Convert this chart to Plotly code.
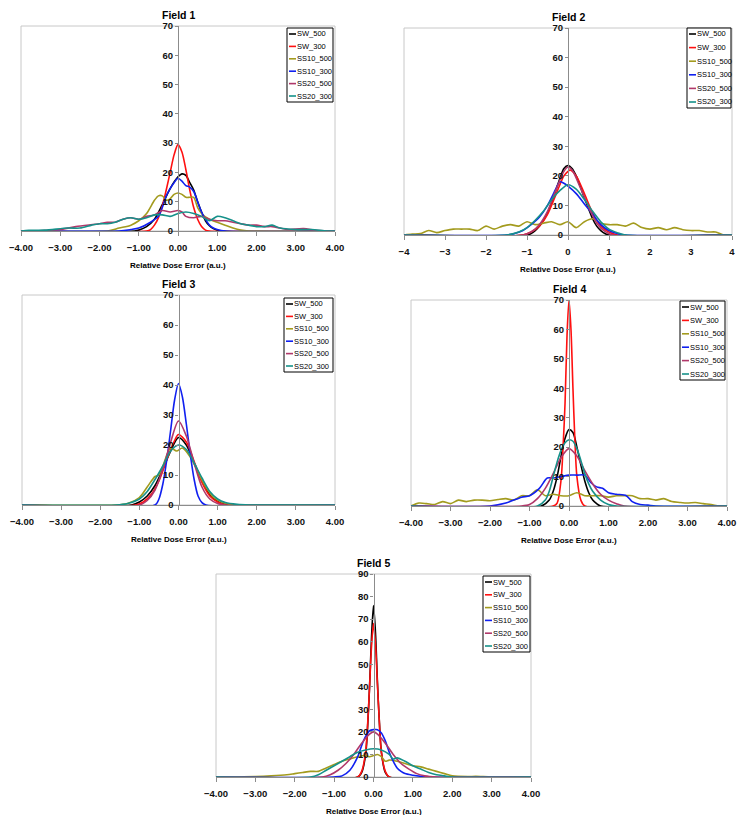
import plotly.graph_objects as go

# ---------------- data ----------------
SERIES = ["SW_500", "SW_300", "SS10_500", "SS10_300", "SS20_500", "SS20_300"]
COLORS = ["#000000", "#FF1010", "#A39B1E", "#1020F0", "#B0386A", "#16918A"]
FIELDS = ["Field 1", "Field 2", "Field 3", "Field 4", "Field 5"]
X_TICKS = [-4, -3, -2, -1, 0, 1, 2, 3, 4]

# Field 1
F1_SW_500_X = [-4, -1.1, -1.0, -0.8, -0.6, -0.4, -0.2, 0, 0.1, 0.2, 0.3, 0.4, 0.5, 0.6, 0.7, 0.8, 0.9, 1.0, 1.1, 4]
F1_SW_500_Y = [0, 0, 0.3, 1.5, 4, 9, 14.5, 18.5, 19.5, 19, 16.5, 14, 10, 6.5, 3.5, 1.8, 0.8, 0.3, 0, 0]
F1_SW_300_X = [-4, -0.8, -0.7, -0.6, -0.5, -0.4, -0.3, -0.2, -0.1, 0, 0.1, 0.2, 0.3, 0.4, 0.5, 0.6, 0.7, 0.8, 4]
F1_SW_300_Y = [0, 0, 0.5, 2, 4.5, 8.5, 14, 20, 26, 29.5, 27, 21, 14, 8, 4, 1.5, 0.3, 0, 0]
F1_SS10_500_X = [-4, -1.8, -1.5, -1.2, -1.0, -0.8, -0.6, -0.5, -0.4, -0.3, -0.2, -0.1, 0, 0.1, 0.2, 0.3, 0.4, 0.5, 0.6, 0.8, 1.0, 1.2, 1.4, 1.6, 1.8, 4]
F1_SS10_500_Y = [0, 0, 1, 2, 3.5, 6, 10.5, 12, 12, 10.5, 11, 12.5, 13, 12.5, 11.5, 11.5, 11.5, 8, 6, 4, 3, 2, 1, 0.3, 0, 0]
F1_SS10_300_X = [-4, -1.5, -1.2, -1.0, -0.7, -0.5, -0.4, -0.3, -0.2, -0.1, 0, 0.1, 0.2, 0.3, 0.4, 0.5, 0.6, 0.7, 0.8, 0.9, 1.0, 1.2, 4]
F1_SS10_300_Y = [0, 0, 0.5, 1, 3, 5, 8, 12, 14.5, 16.5, 18, 17, 15.5, 15, 13.5, 10, 6.5, 4, 2, 1, 0.5, 0, 0]
F1_SS20_500_X = [-4, -3.8, -3.0, -2.6, -2.0, -1.8, -1.6, -1.4, -1.2, -1.0, -0.8, -0.6, -0.4, -0.2, 0, 0.1, 0.2, 0.4, 0.6, 0.8, 1.0, 1.2, 1.4, 1.6, 1.8, 2.0, 2.2, 2.4, 2.6, 2.8, 3.2, 3.5, 3.8, 4]
F1_SS20_500_Y = [0, 0, 0.5, 1.5, 2.5, 3, 3, 4, 4.5, 4, 5, 5.5, 7, 6.5, 7, 6.5, 5, 4.5, 5, 4, 3.5, 3.5, 3, 2.5, 2, 2, 1.5, 1.5, 1, 0.5, 0.8, 0.2, 0, 0]
F1_SS20_300_X = [-4, -3.8, -3.4, -2.8, -2.5, -2.2, -2.0, -1.8, -1.6, -1.4, -1.2, -1.0, -0.8, -0.6, -0.4, -0.2, 0, 0.2, 0.4, 0.6, 0.8, 1.0, 1.2, 1.4, 1.6, 1.8, 2.0, 2.2, 2.4, 2.6, 3.0, 3.4, 3.8, 4]
F1_SS20_300_Y = [0, 0.2, 0.3, 1, 1, 2, 2.5, 2.5, 3, 4, 4.5, 4, 4.5, 5.5, 5.5, 5, 6, 6.5, 6, 5, 3.5, 5, 4.5, 3.5, 2.5, 2, 1.5, 1.5, 2, 1, 0.5, 0.5, 0, 0]

# Field 2
F2_SW_500_X = [-4, -1.0, -0.9, -0.8, -0.7, -0.6, -0.5, -0.4, -0.3, -0.2, -0.1, 0, 0.1, 0.2, 0.3, 0.4, 0.5, 0.6, 0.7, 0.8, 0.9, 1.0, 4]
F2_SW_500_Y = [0, 0, 0.5, 1.5, 3, 5, 7.5, 11, 15, 19, 22.5, 23.5, 22.5, 20, 16.5, 12.5, 9, 5.5, 3, 1.5, 0.5, 0, 0]
F2_SW_300_X = [-4, -1.1, -0.9, -0.7, -0.5, -0.3, -0.1, 0, 0.05, 0.2, 0.4, 0.6, 0.8, 1.0, 1.2, 4]
F2_SW_300_Y = [0, 0, 1, 3, 7, 13.5, 20, 21.5, 22, 20, 14, 7.5, 3, 1, 0, 0]
F2_SS10_500_X = [-4, -3.8, -3.6, -3.4, -3.2, -3.0, -2.8, -2.6, -2.4, -2.2, -2.0, -1.8, -1.6, -1.4, -1.2, -1.0, -0.8, -0.6, -0.4, -0.2, 0, 0.2, 0.4, 0.6, 0.8, 1.0, 1.2, 1.4, 1.6, 1.8, 2.0, 2.2, 2.4, 2.6, 2.8, 3.0, 3.2, 3.4, 3.6, 3.8, 4]
F2_SS10_500_Y = [0, 0.3, 0.5, 1.5, 0.8, 1.5, 2, 2, 2, 1.5, 3, 2, 3, 3.5, 3, 4.5, 3.5, 4, 4.5, 3.5, 4.5, 2.5, 4.5, 5.5, 4, 3.5, 3.5, 3, 4, 2.5, 2, 2.5, 1.8, 2.5, 1.8, 1.5, 1.5, 1, 1, 0, 0]
F2_SS10_300_X = [-4, -1.5, -1.3, -1.1, -0.9, -0.7, -0.5, -0.3, -0.2, -0.1, 0, 0.2, 0.4, 0.6, 0.8, 1.0, 1.2, 1.4, 4]
F2_SS10_300_Y = [0, 0, 0.5, 1.5, 3.5, 6, 10, 15.5, 18, 17.5, 16.5, 14, 10.5, 7, 3.5, 1.5, 0.5, 0, 0]
F2_SS20_500_X = [-4, -1.1, -0.9, -0.7, -0.5, -0.3, -0.1, 0, 0.1, 0.3, 0.5, 0.7, 0.9, 1.1, 4]
F2_SS20_500_Y = [0, 0, 1, 3.5, 8, 15, 21.5, 23, 22, 16, 9.5, 4, 1.2, 0, 0]
F2_SS20_300_X = [-4, -1.5, -1.2, -1.0, -0.8, -0.6, -0.4, -0.2, 0, 0.2, 0.4, 0.6, 0.8, 1.0, 1.2, 1.4, 4]
F2_SS20_300_Y = [0, 0, 1, 2.5, 5, 8, 12, 15, 17, 15.5, 12, 8, 4.5, 2, 0.8, 0, 0]

# Field 3
F3_SW_500_X = [-4, -1.2, -1.0, -0.8, -0.6, -0.4, -0.2, 0, 0.2, 0.4, 0.6, 0.8, 1.0, 1.2, 1.4, 4]
F3_SW_500_Y = [0, 0, 1, 3, 6.5, 12, 18, 22.5, 20, 14, 8, 3.5, 1.2, 0.3, 0, 0]
F3_SW_300_X = [-4, -1.1, -0.9, -0.7, -0.5, -0.3, -0.1, 0, 0.2, 0.4, 0.6, 0.8, 1.0, 1.2, 4]
F3_SW_300_Y = [0, 0, 1, 3.5, 8, 15, 21.5, 23.5, 21, 14.5, 7.5, 3, 1, 0, 0]
F3_SS10_500_X = [-4, -1.6, -1.3, -1.0, -0.8, -0.6, -0.5, -0.4, -0.2, -0.05, 0.1, 0.3, 0.5, 0.7, 0.9, 1.1, 1.4, 4]
F3_SS10_500_Y = [0, 0, 0.5, 2.5, 6, 9.5, 10, 13, 19, 18, 19, 16, 11, 6, 2.5, 1, 0, 0]
F3_SS10_300_X = [-4, -0.6, -0.5, -0.4, -0.3, -0.2, -0.1, 0, 0.1, 0.2, 0.3, 0.4, 0.5, 0.6, 0.7, 4]
F3_SS10_300_Y = [0, 0, 2, 7, 15, 25, 35, 40.5, 36, 27, 17, 8.5, 3, 0.8, 0, 0]
F3_SS20_500_X = [-4, -1.0, -0.8, -0.6, -0.4, -0.2, 0, 0.2, 0.4, 0.6, 0.8, 1.0, 1.2, 4]
F3_SS20_500_Y = [0, 0, 1.5, 5, 12, 21, 28, 23, 14, 6, 2, 0.5, 0, 0]
F3_SS20_300_X = [-4, -1.6, -1.3, -1.0, -0.8, -0.6, -0.4, -0.2, 0, 0.2, 0.4, 0.6, 0.8, 1.0, 1.2, 1.5, 1.8, 4]
F3_SS20_300_Y = [0, 0, 0.5, 2, 4.5, 8.5, 13, 18, 20, 18.5, 14, 9, 4.5, 2, 0.8, 0.2, 0, 0]

# Field 4
F4_SW_500_X = [-4, -0.7, -0.5, -0.4, -0.3, -0.2, -0.1, 0, 0.1, 0.2, 0.3, 0.4, 0.5, 0.6, 0.7, 0.8, 4]
F4_SW_500_Y = [0, 0, 2, 5, 10, 17, 23, 26, 25, 20, 14, 8.5, 4.5, 2, 0.8, 0, 0]
F4_SW_300_X = [-4, -0.4, -0.3, -0.2, -0.15, -0.1, -0.05, 0, 0.05, 0.1, 0.15, 0.2, 0.3, 0.4, 4]
F4_SW_300_Y = [0, 0, 1, 9, 20, 35, 58, 70, 60, 40, 22, 10, 2, 0, 0]
F4_SS10_500_X = [-4, -3.8, -3.6, -3.4, -3.2, -3.0, -2.8, -2.6, -2.4, -2.2, -2.0, -1.8, -1.6, -1.4, -1.2, -1.0, -0.8, -0.6, -0.4, -0.2, 0, 0.2, 0.4, 0.6, 0.8, 1.0, 1.2, 1.4, 1.6, 1.8, 2.0, 2.2, 2.4, 2.6, 2.8, 3.0, 3.2, 3.4, 3.6, 3.8, 4]
F4_SS10_500_Y = [0, 1, 0.8, 0.5, 1.5, 0.8, 2, 1.5, 2, 2, 1.8, 2.2, 2.5, 2, 3.5, 3.5, 5.5, 3.5, 4, 3.5, 3.5, 4.5, 3.5, 3.5, 3.5, 3, 3.5, 3.5, 3.5, 2.5, 2.5, 2, 2.5, 1.5, 1.2, 1, 1.2, 0.8, 0.5, 0, 0]
F4_SS10_300_X = [-4, -2.0, -1.6, -1.2, -1.0, -0.75, -0.55, -0.4, -0.2, 0, 0.2, 0.4, 0.55, 0.7, 0.85, 1.0, 1.2, 1.45, 1.6, 1.8, 2.0, 2.2, 4]
F4_SS10_300_Y = [0, 0, 1, 3, 3.5, 6, 9.5, 9.5, 10, 10.5, 10.5, 10.5, 8, 6.5, 6, 4.5, 4, 3.5, 1.5, 0.5, 0.3, 0, 0]
F4_SS20_500_X = [-4, -1.2, -1.0, -0.8, -0.6, -0.4, -0.2, 0, 0.2, 0.4, 0.6, 0.8, 1.0, 1.2, 1.4, 4]
F4_SS20_500_Y = [0, 0, 0.5, 2.5, 6, 11, 16.5, 19.5, 17, 12, 7.5, 4, 2, 0.8, 0, 0]
F4_SS20_300_X = [-4, -0.8, -0.6, -0.5, -0.4, -0.3, -0.2, -0.1, 0, 0.1, 0.2, 0.3, 0.4, 0.5, 0.6, 0.8, 1.0, 1.2, 4]
F4_SS20_300_Y = [0, 0, 2, 5, 10, 15, 19, 21.5, 22.5, 22, 19.5, 15.5, 11, 7.5, 5, 2, 0.5, 0, 0]

# Field 5
F5_SW_500_X = [-4, -0.4, -0.3, -0.2, -0.15, -0.1, -0.05, 0, 0.05, 0.1, 0.15, 0.2, 0.3, 0.4, 4]
F5_SW_500_Y = [0, 0, 2, 10, 22, 40, 62, 76, 64, 42, 24, 11, 2, 0, 0]
F5_SW_300_X = [-4, -0.4, -0.3, -0.2, -0.15, -0.1, -0.05, 0, 0.05, 0.1, 0.15, 0.2, 0.3, 0.4, 4]
F5_SW_300_Y = [0, 0, 2.5, 11, 23, 40, 58, 68, 59, 41, 24, 11, 2.5, 0, 0]
F5_SS10_500_X = [-4, -3.6, -3.0, -2.6, -2.2, -2.0, -1.8, -1.6, -1.4, -1.2, -1.0, -0.8, -0.6, -0.4, -0.2, -0.1, 0, 0.1, 0.2, 0.3, 0.4, 0.6, 0.8, 1.0, 1.2, 1.4, 1.6, 1.8, 2.0, 2.4, 2.6, 3.0, 4]
F5_SS10_500_Y = [0, 0, 0.2, 0.5, 1, 1.5, 2, 2.5, 2.5, 4, 5.5, 7, 8, 9, 9.5, 9, 9.5, 10, 9, 7, 7.5, 7, 6, 5, 4.5, 3.5, 2.5, 1.5, 0.5, 0.2, 0.3, 0, 0]
F5_SS10_300_X = [-4, -1.0, -0.8, -0.6, -0.4, -0.3, -0.2, -0.1, 0, 0.1, 0.2, 0.3, 0.4, 0.5, 0.6, 0.7, 0.8, 1.0, 1.2, 1.4, 4]
F5_SS10_300_Y = [0, 0, 0.5, 3, 9, 14, 18, 20.5, 21, 21, 19.5, 16, 11, 7, 4, 2.5, 1.5, 0.8, 0.3, 0, 0]
F5_SS20_500_X = [-4, -1.3, -1.1, -0.9, -0.7, -0.5, -0.3, -0.1, 0, 0.1, 0.3, 0.5, 0.7, 0.9, 1.1, 1.3, 1.6, 4]
F5_SS20_500_Y = [0, 0, 1, 3, 6, 10, 15, 19, 20, 19, 15, 10, 6, 3.5, 1.5, 0.5, 0, 0]
F5_SS20_300_X = [-4, -1.6, -1.4, -1.2, -1.0, -0.8, -0.6, -0.4, -0.2, 0, 0.2, 0.4, 0.5, 0.6, 0.8, 1.0, 1.2, 1.4, 1.6, 1.8, 2.0, 4]
F5_SS20_300_Y = [0, 0, 1, 3, 5, 7, 9, 11, 12, 12.5, 12, 10, 8, 8.5, 7, 5, 3.5, 2, 1, 0.5, 0, 0]

DATA = [
    [(F1_SW_500_X, F1_SW_500_Y), (F1_SW_300_X, F1_SW_300_Y), (F1_SS10_500_X, F1_SS10_500_Y),
     (F1_SS10_300_X, F1_SS10_300_Y), (F1_SS20_500_X, F1_SS20_500_Y), (F1_SS20_300_X, F1_SS20_300_Y)],
    [(F2_SW_500_X, F2_SW_500_Y), (F2_SW_300_X, F2_SW_300_Y), (F2_SS10_500_X, F2_SS10_500_Y),
     (F2_SS10_300_X, F2_SS10_300_Y), (F2_SS20_500_X, F2_SS20_500_Y), (F2_SS20_300_X, F2_SS20_300_Y)],
    [(F3_SW_500_X, F3_SW_500_Y), (F3_SW_300_X, F3_SW_300_Y), (F3_SS10_500_X, F3_SS10_500_Y),
     (F3_SS10_300_X, F3_SS10_300_Y), (F3_SS20_500_X, F3_SS20_500_Y), (F3_SS20_300_X, F3_SS20_300_Y)],
    [(F4_SW_500_X, F4_SW_500_Y), (F4_SW_300_X, F4_SW_300_Y), (F4_SS10_500_X, F4_SS10_500_Y),
     (F4_SS10_300_X, F4_SS10_300_Y), (F4_SS20_500_X, F4_SS20_500_Y), (F4_SS20_300_X, F4_SS20_300_Y)],
    [(F5_SW_500_X, F5_SW_500_Y), (F5_SW_300_X, F5_SW_300_Y), (F5_SS10_500_X, F5_SS10_500_Y),
     (F5_SS10_300_X, F5_SS10_300_Y), (F5_SS20_500_X, F5_SS20_500_Y), (F5_SS20_300_X, F5_SS20_300_Y)],
]
Y_MAX = [70, 70, 70, 70, 90]
X_FORMAT = [".2f", "d", ".2f", ".2f", ".2f"]

# ---------------- layout (pixel boxes, page coordinates) ----------------
W, H = 750, 823
PAGE_MARGIN = 8           # default body margin of the html page
FW, FH = W - 2 * PAGE_MARGIN, H - 2 * PAGE_MARGIN
# plot area: left, right, top, bottom (px)
BOXES = [(21, 335, 26, 231), (404, 732, 28, 235), (22, 335, 295, 505),
         (411, 727, 300, 506), (216, 531, 574, 777)]
# legend boxes: left, right, top, bottom (px)
LEG = [(287, 333, 28, 102), (687, 731, 28, 108), (284, 333, 298, 372),
       (680, 725, 301, 380), (483, 530, 576, 652)]

FONT = "Liberation Sans Narrow, Arial Narrow, Liberation Sans, Arial, sans-serif"


def fx(p):
    return (p - PAGE_MARGIN) / FW


def fy(p):
    return 1 - (p - PAGE_MARGIN) / FH


fig = go.Figure()
shapes = []
annotations = []
layout = {}

for i in range(5):
    n = i + 1
    xa = "x" if n == 1 else f"x{n}"
    ya = "y" if n == 1 else f"y{n}"
    l, r, t, b = BOXES[i]
    for s in range(6):
        xs, ys = DATA[i][s]
        fig.add_trace(go.Scatter(
            x=xs, y=ys, mode="lines", name=SERIES[s], showlegend=False,
            line=dict(color=COLORS[s], width=1.6, shape="spline", smoothing=0.8),
            xaxis=xa, yaxis=ya, hoverinfo="skip"))
    layout["xaxis" if n == 1 else f"xaxis{n}"] = dict(
        domain=[fx(l), fx(r)], anchor=ya, range=[-4, 4], automargin=False,
        tickvals=X_TICKS, tickformat=X_FORMAT[i],
        showgrid=False, zeroline=False, showline=True, linecolor="#8c8c8c", linewidth=1,
        ticks="outside", ticklen=4, tickcolor="#8c8c8c", ticklabelstandoff=4,
        tickfont=dict(family=FONT, size=9.5, color="#111", weight="bold"))
    layout["yaxis" if n == 1 else f"yaxis{n}"] = dict(
        domain=[fy(b), fy(t)], anchor="free", position=fx((l + r) / 2), automargin=False,
        range=[0, Y_MAX[i]], dtick=10,
        showgrid=False, zeroline=False, showline=True, linecolor="#8c8c8c", linewidth=1.2,
        ticks="outside", ticklen=3, tickcolor="#8c8c8c",
        tickfont=dict(family=FONT, size=9.5, color="#111", weight="bold"))
    # plot area frame
    shapes.append(dict(type="rect", xref="paper", yref="paper",
                       x0=fx(l), x1=fx(r), y0=fy(b), y1=fy(t),
                       line=dict(color="#c8c8c8", width=1), layer="below"))
    # titles
    annotations.append(dict(text=FIELDS[i], xref="paper", yref="paper",
                            x=fx((l + r) / 2), y=fy(t - 3), xanchor="center", yanchor="bottom",
                            showarrow=False,
                            font=dict(family=FONT, size=10.5, color="#000", weight="bold")))
    annotations.append(dict(text="Relative Dose Error (a.u.)", xref="paper", yref="paper",
                            x=fx((l + r) / 2), y=fy(b + 34), xanchor="center", yanchor="middle",
                            showarrow=False,
                            font=dict(family=FONT, size=8, color="#000", weight="bold")))
    # legend
    bl, br, bt, bb = LEG[i]
    shapes.append(dict(type="rect", xref="paper", yref="paper",
                       x0=fx(bl), x1=fx(br), y0=fy(bb), y1=fy(bt),
                       line=dict(color="#000", width=1), fillcolor="white", layer="above"))
    step = (bb - bt - 12) / 5
    for s in range(6):
        yc = bt + 6 + s * step
        shapes.append(dict(type="line", xref="paper", yref="paper",
                           x0=fx(bl + 2), x1=fx(bl + 9), y0=fy(yc), y1=fy(yc),
                           line=dict(color=COLORS[s], width=1.6), layer="above"))
        annotations.append(dict(text=SERIES[s], xref="paper", yref="paper",
                                x=fx(bl + 9), y=fy(yc), xanchor="left", yanchor="middle",
                                showarrow=False, borderpad=0,
                                font=dict(family=FONT, size=7.5, color="#000")))

fig.update_layout(
    width=FW, height=FH, margin=dict(l=0, r=0, t=0, b=0, autoexpand=False),
    paper_bgcolor="white", plot_bgcolor="white",
    showlegend=False, shapes=shapes, annotations=annotations, **layout)

fig.write_html("out.html")
